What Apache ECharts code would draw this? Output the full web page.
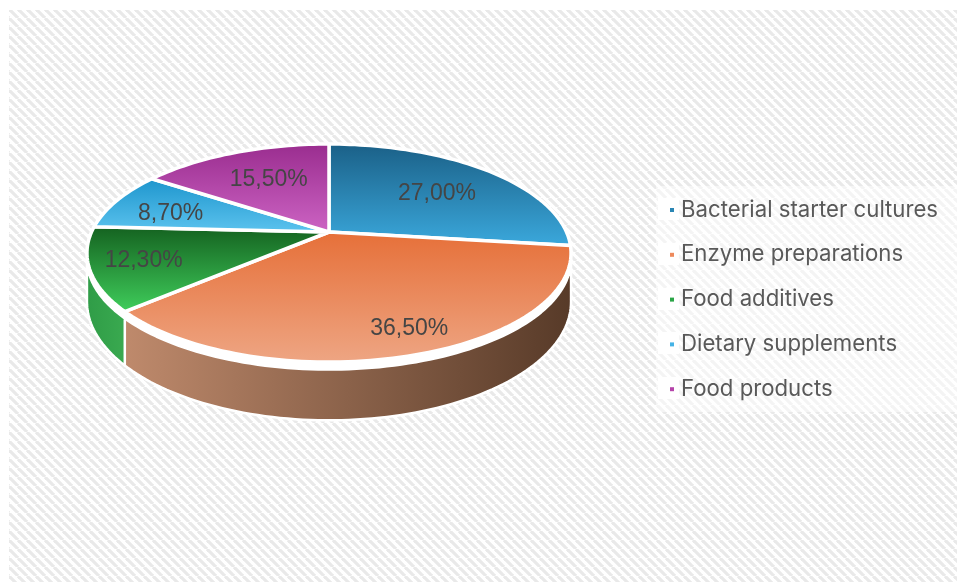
<!DOCTYPE html>
<html><head><meta charset="utf-8">
<style>html,body{margin:0;padding:0;background:#fff}#c{width:957px;height:582px}</style>
<script src="https://cdn.jsdelivr.net/npm/echarts@6/dist/echarts.min.js"></script>
</head><body><div id="c"></div>
<script>
const categories = ['Bacterial starter cultures','Enzyme preparations','Food additives','Dietary supplements','Food products'];
const values = [27.0,36.5,12.3,8.7,15.5];
const legendColors = ['#2a86b4','#ee8a5c','#2aa547','#45b3e6','#b544aa'];
const topDark = ['#1a5f86','#e66f38','#14601f','#1c94cc','#992c8e'];
const topLight = ['#3ba9dd','#eea684','#40cf5c','#5dc4ef','#cd64c4'];
const wallLeft = ['#2a86b4','#bf8a6c','#2f9c47','#45b3e6','#b544aa'];
const wallRight = ['#1a5f86','#573a28','#3aaa50','#1c94cc','#992c8e'];
const labelDisc = [[.489,-.39],[.287,.78],[-.742,.255],[-.690,-.178],[-.281,-.549]];

const CX=329, CY=232, RX=237.5, RY=105, K=0.193, DEPTH=47, RIM=6;
const SIL=Math.acos(-K)*180/Math.PI;
function proj(u,v,extra){const d=1-K*v;return [CX+RX*u/d, CY+(RY*v+(extra||0))/d];}
function arc(a0,a1,extra){const pts=[],n=Math.max(2,Math.ceil(Math.abs(a1-a0)/1.5));
  for(let i=0;i<=n;i++){const t=(a0+(a1-a0)*i/n)*Math.PI/180;pts.push(proj(Math.sin(t),-Math.cos(t),extra));}
  return pts;}
function grad(x,y,x2,y2,a,b){return {type:'linear',x,y,x2,y2,colorStops:[{offset:0,color:a},{offset:1,color:b}]};}

function render(i){return function(params,api){
  const start=api.value(0), val=api.value(1);
  const a0=start*3.6, a1=(start+val)*3.6;
  const children=[];
  const w0=Math.max(a0,SIL), w1=Math.min(a1,360-SIL);
  if(w1>w0){
    children.push({type:'polygon',z2:1,shape:{points:arc(w0,w1,0).concat(arc(w1,w0,RIM+2))},
      style:{fill:'#fff',stroke:'#fff',lineWidth:1}});
    children.push({type:'polygon',z2:1,shape:{points:arc(w0,w1,RIM).concat(arc(w1,w0,DEPTH))},
      style:{fill:grad(0,0,1,0,wallLeft[i],wallRight[i]),stroke:'#fff',lineWidth:2.5,lineJoin:'round'}});
  }
  children.push({type:'polygon',z2:2,shape:{points:[proj(0,0)].concat(arc(a0,a1))},
    style:{fill:grad(0,0,0,1,topDark[i],topLight[i]),stroke:'#fff',lineWidth:3.5,lineJoin:'round'}});
  const p=proj(labelDisc[i][0],labelDisc[i][1]);
  children.push({type:'text',z2:3,x:p[0],y:p[1],style:{text:val.toFixed(2).replace('.',',')+'%',
    fill:'#454545',font:'23px "Liberation Sans"',align:'center',verticalAlign:'middle'}});
  return {type:'group',children};
};}

const tile=document.createElement('canvas');tile.width=tile.height=9;
(function(){const g=tile.getContext('2d');g.fillStyle='#fff';g.fillRect(0,0,9,9);g.strokeStyle='#e9e9e9';g.lineWidth=3.2;
  for(let o=-9;o<=18;o+=9){g.beginPath();g.moveTo(o,0);g.lineTo(o+9,9);g.stroke();}})();

let acc=0;
const series=categories.map((name,i)=>{const s={type:'custom',name,coordinateSystem:'none',silent:true,animation:false,
  itemStyle:{color:legendColors[i]},renderItem:render(i),data:[[acc,values[i]]]};acc+=values[i];return s;});

const legendRows=[209,254,299,343,388];
const chart=echarts.init(document.getElementById('c'),null,{renderer:'canvas'});
chart.setOption({
  animation:false,backgroundColor:'#fff',
  graphic:{elements:[
    {type:'rect',silent:true,z:-10,shape:{x:9,y:10,width:948,height:572},style:{fill:{image:tile,repeat:'repeat'}}},
    {type:'rect',silent:true,z:-9,shape:{x:656,y:186,width:301,height:226},style:{fill:'rgba(255,255,255,0.5)'}}
  ].concat(legendRows.map(y=>({type:'rect',silent:true,z:-8,shape:{x:658,y:y-11,width:21,height:22},style:{fill:'#fff'}})))},
  legend:{show:true,orient:'vertical',left:665,top:193,selectedMode:false,data:categories,
    itemWidth:4,itemHeight:4,itemGap:20.8,icon:'rect',
    textStyle:{color:'#595959',fontFamily:'Inter',fontSize:22.2,lineHeight:24,padding:[0,0,0,2]}},
  series
});
</script></body></html>
